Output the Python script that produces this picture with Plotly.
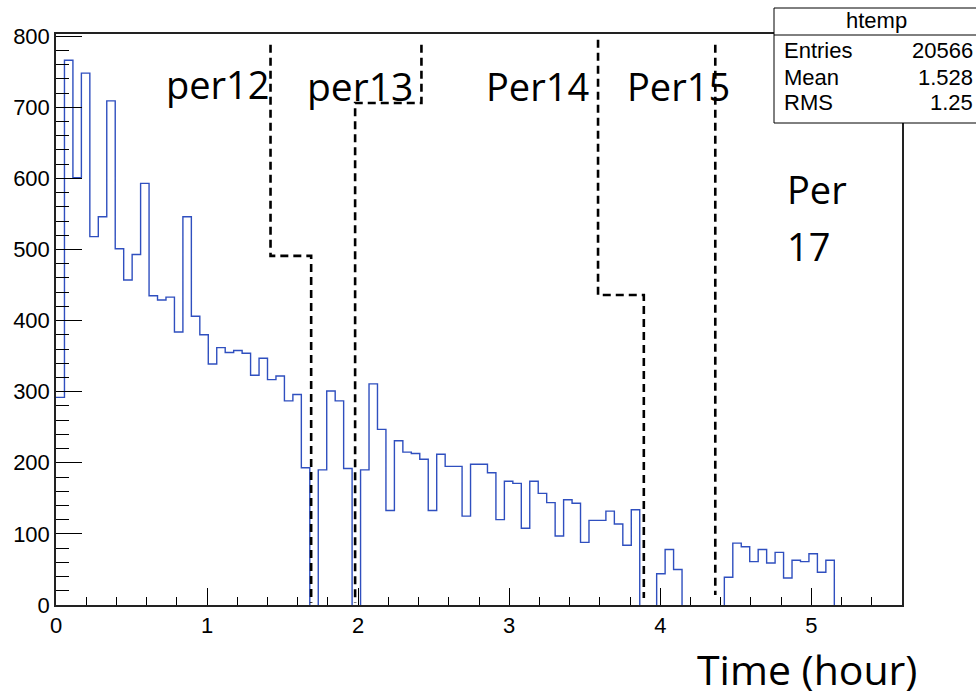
import plotly.graph_objects as go

# ---------------- data ----------------
x_min, x_max, n_bins = 0.0, 5.6, 100
counts = [292, 766, 601, 748, 518, 546, 709, 501, 457, 493,
          593, 435, 429, 433, 384, 546, 406, 380, 339, 362,
          355, 358, 354, 323, 347, 317, 322, 287, 296, 193,
          0, 190, 301, 287, 192, 0, 190, 311, 247, 133,
          231, 215, 213, 205, 133, 212, 195, 195, 125, 198,
          198, 186, 120, 174, 171, 108, 174, 157, 144, 97,
          148, 143, 88, 119, 119, 132, 114, 84, 134, 0,
          0, 44, 78, 50, 0, 0, 0, 0, 0, 39,
          87, 82, 61, 78, 59, 74, 38, 63, 61, 72,
          46, 63, 0, 0, 0, 0, 0, 0, 0, 0]

# period boundary guides (hours, counts)
period_x = [[1.42, 1.42, 1.689, 1.689],
            [2.419, 2.419, 1.98, 1.98],
            [3.588, 3.588, 3.891, 3.891],
            [4.364, 4.364]]
period_y = [[788, 491, 491, 3],
            [788, 706, 706, 3],
            [795, 436, 436, 10],
            [788, 14]]

period_labels = ["per12", "per13", "Per14", "Per15"]
stats_names = ["Entries", "Mean", "RMS"]
stats_values = ["20566", "1.528", "1.25"]

x_ticks = [0, 1, 2, 3, 4, 5]
y_ticks = [0, 100, 200, 300, 400, 500, 600, 700, 800]

# ---------------- figure ----------------
W, H = 976, 698
ML, MR, MT, MB = 56, 74, 34, 93
PW, PH = W - ML - MR, H - MT - MB


def px(xp):
    return (xp - ML) / PW


def py(yp):
    return (H - MB - yp) / PH


bw = (x_max - x_min) / n_bins
edges = [x_min + i * bw for i in range(n_bins + 1)]

# histogram outline; stretches lying on zero are hidden under the axis in the original
step_x, step_y = [], []
for i, c in enumerate(counts):
    if c > 0:
        step_x += [edges[i], edges[i + 1]]
        step_y += [c, c]
    else:
        step_x += [edges[i], None, edges[i + 1]]
        step_y += [0, None, 0]
step_x.append(edges[-1])
step_y.append(0)

fig = go.Figure()
fig.add_trace(go.Scatter(x=step_x, y=step_y, mode="lines", connectgaps=False,
                         line=dict(color="#2f4fbf", width=1.4), hoverinfo="skip"))

for xs, ys in zip(period_x, period_y):
    fig.add_trace(go.Scatter(x=xs, y=ys, mode="lines",
                             line=dict(color="black", width=2.6, dash="8px,5px"),
                             hoverinfo="skip"))

label_pos = [(165, 84), (306, 85), (485, 86), (626, 86)]
label_size = [38, 39, 38, 38]
annotations = []
for (lx, ly), t, s in zip(label_pos, period_labels, label_size):
    annotations.append(dict(text=t, x=px(lx), y=py(ly), xref="paper", yref="paper",
                            xanchor="left", yanchor="middle", showarrow=False,
                            borderpad=0, font=dict(family="Open Sans", size=s, color="black")))
lab_font = dict(family="Open Sans", size=38, color="black")
annotations.append(dict(text="Per", x=px(786), y=py(189), xref="paper", yref="paper",
                        xanchor="left", yanchor="middle", showarrow=False, borderpad=0, font=lab_font))
annotations.append(dict(text="17", x=px(786), y=py(246), xref="paper", yref="paper",
                        xanchor="left", yanchor="middle", showarrow=False, borderpad=0, font=lab_font))
annotations.append(dict(text="Time (hour)", x=px(696), y=py(669), xref="paper", yref="paper",
                        xanchor="left", yanchor="middle", showarrow=False, borderpad=0,
                        font=dict(family="Open Sans", size=41, color="black")))

# stats box
box_font = dict(family="Liberation Sans", size=22, color="black")
shapes = [
    dict(type="rect", xref="paper", yref="paper", x0=px(774), x1=px(990), y0=py(123), y1=py(8),
         line=dict(color="black", width=1), fillcolor="white", layer="above"),
    dict(type="line", xref="paper", yref="paper", x0=px(774), x1=px(990), y0=py(35), y1=py(35),
         line=dict(color="black", width=1), layer="above"),
]
annotations.append(dict(text="htemp", x=px(876), y=py(21), xref="paper", yref="paper",
                        xanchor="center", yanchor="middle", showarrow=False, borderpad=0, font=box_font))
for i, (n, v) in enumerate(zip(stats_names, stats_values)):
    yy = [51, 77, 102][i]
    annotations.append(dict(text=n, x=px(783), y=py(yy), xref="paper", yref="paper",
                            xanchor="left", yanchor="middle", showarrow=False, borderpad=0, font=box_font))
    annotations.append(dict(text=v, x=px(974), y=py(yy), xref="paper", yref="paper",
                            xanchor="right", yanchor="middle", showarrow=False, borderpad=0, font=box_font))

tick_font = dict(family="Liberation Sans", size=22, color="black")
fig.update_layout(
    width=W, height=H, margin=dict(l=ML, r=MR, t=MT, b=MB, pad=0),
    paper_bgcolor="white", plot_bgcolor="white", showlegend=False,
    annotations=annotations, shapes=shapes,
    xaxis=dict(range=[x_min, x_max], tickvals=x_ticks, ticktext=[str(v) for v in x_ticks],
               ticks="inside", ticklen=17, tickwidth=1, tickcolor="black",
               minor=dict(dtick=0.2, ticks="inside", ticklen=8, tickwidth=1, tickcolor="black"),
               showline=True, linecolor="#222222", linewidth=1.5, mirror=True, layer="above traces",
               showgrid=False, zeroline=False, tickfont=tick_font, automargin=False),
    yaxis=dict(range=[0, 803], tickvals=y_ticks, ticktext=[str(v) for v in y_ticks],
               ticks="inside", ticklen=26, tickwidth=1, tickcolor="black",
               minor=dict(dtick=20, ticks="inside", ticklen=13, tickwidth=1, tickcolor="black"),
               showline=True, linecolor="#222222", linewidth=1.5, mirror=True, layer="above traces",
               showgrid=False, zeroline=False, tickfont=tick_font, automargin=False),
)

fig.write_html("out.html")
